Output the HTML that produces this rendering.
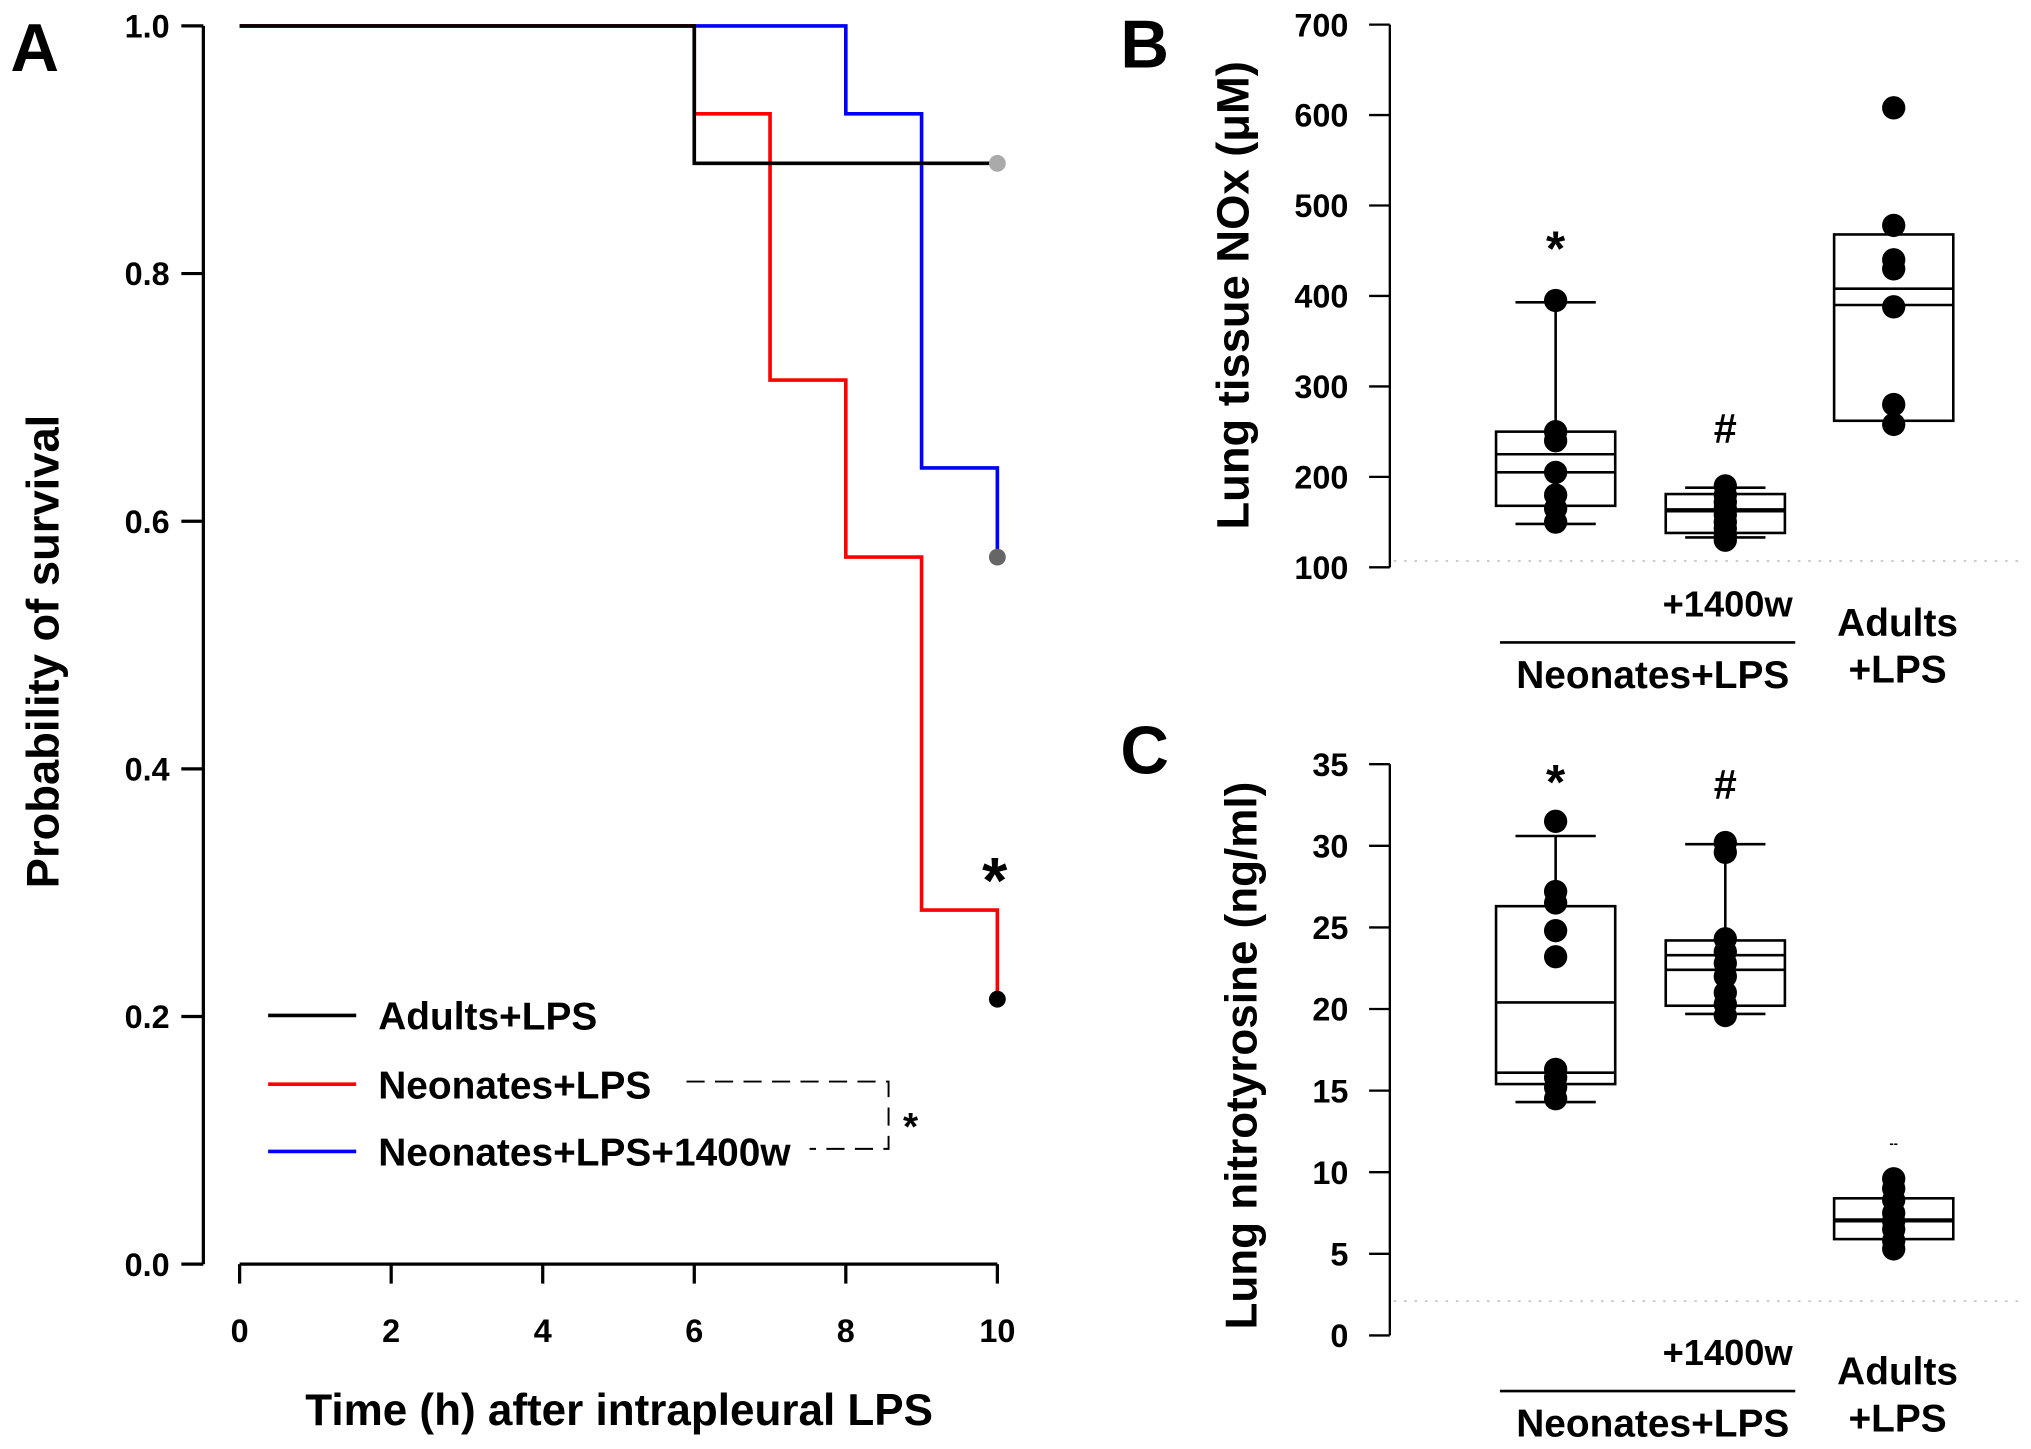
<!DOCTYPE html>
<html><head><meta charset="utf-8">
<style>
html,body{margin:0;padding:0;background:#fff;}
svg{display:block;}
text{font-family:"Liberation Sans",Arial,sans-serif;font-weight:bold;fill:#000;}
</style></head>
<body>
<svg id="fig" width="2031" height="1449" viewBox="0 0 1568 1118.7" preserveAspectRatio="none" xmlns="http://www.w3.org/2000/svg">
<text x="8" y="55" font-size="52">A</text>
<text x="865" y="52" font-size="52">B</text>
<text x="865" y="597" font-size="52">C</text>
<g id="A"></g>
<g id="B"></g>
<g id="C"></g>
</svg>
<script>
// ---- Panel A data ----
const survTimes = [0, 6, 7, 8, 9, 10];
const survAdults = [1.0, 0.889, 0.889, 0.889, 0.889, 0.889];
const survNeonates = [1.0, 0.929, 0.714, 0.571, 0.286, 0.214];
const survNeo1400 = [1.0, 1.0, 1.0, 0.929, 0.643, 0.571];
const survXTicks = [0, 2, 4, 6, 8, 10];
const survYTicks = [0.0, 0.2, 0.4, 0.6, 0.8, 1.0];
const legendLabels = ["Adults+LPS", "Neonates+LPS", "Neonates+LPS+1400w"];

// ---- Panel B data ----
const noxTicks = [100, 200, 300, 400, 500, 600, 700];
const noxBoxLow = [168, 138, 262];
const noxBoxHigh = [250, 181, 468];
const noxLine1 = [205, 162, 390];
const noxLine2 = [225, 164, 408];
const noxWhiskLow = [148, 133, null];
const noxWhiskHigh = [393, 188, null];
const noxPts0 = [395, 250, 240, 205, 180, 165, 150];
const noxPts1 = [190, 180, 172, 165, 158, 150, 143, 136, 130];
const noxPts2 = [608, 478, 440, 430, 388, 280, 258];

// ---- Panel C data ----
const ntTicks = [0, 5, 10, 15, 20, 25, 30, 35];
const ntBoxLow = [15.4, 20.2, 5.9];
const ntBoxHigh = [26.3, 24.2, 8.4];
const ntLine1 = [16.1, 22.4, 7.0];
const ntLine2 = [20.4, 23.3, 7.1];
const ntWhiskLow = [14.3, 19.7, null];
const ntWhiskHigh = [30.6, 30.1, null];
const ntPts0 = [31.5, 27.2, 26.5, 24.8, 23.2, 16.3, 15.8, 15.2, 14.5];
const ntPts1 = [30.2, 29.6, 24.3, 23.5, 22.8, 22.0, 21.0, 20.3, 19.6];
const ntPts2 = [9.6, 9.0, 8.3, 7.5, 7.0, 6.5, 5.8, 5.3];

const NS = "http://www.w3.org/2000/svg";
function mk(parent, tag, attrs, txt) {
  const e = document.createElementNS(NS, tag);
  for (const k in attrs) e.setAttribute(k, attrs[k]);
  if (txt !== undefined) e.textContent = txt;
  parent.appendChild(e);
  return e;
}

// ================= Panel A =================
(function () {
  const g = document.getElementById('A');
  const xS = v => 185 + (v / 10) * 585;
  const yS = v => 976 - v * 956;
  let ax = mk(g, 'line', {x1: 157, y1: yS(1), x2: 157, y2: yS(0), stroke: '#000', 'stroke-width': 2.5});
  
  
  survYTicks.forEach(t => {
    const tk = mk(g, 'line', {x1: 140, y1: yS(t), x2: 157, y2: yS(t), stroke: '#000', 'stroke-width': 2.5});
    
    
    const lb = mk(g, 'text', {x: 131, y: yS(t) + 9, 'font-size': 25, 'text-anchor': 'end'}, t.toFixed(1));
    
    
  });
  ax = mk(g, 'line', {x1: xS(0), y1: 976, x2: xS(10), y2: 976, stroke: '#000', 'stroke-width': 2.5});
  
  
  survXTicks.forEach(t => {
    const tk = mk(g, 'line', {x1: xS(t), y1: 976, x2: xS(t), y2: 991, stroke: '#000', 'stroke-width': 2.5});
    
    
    const lb = mk(g, 'text', {x: xS(t), y: 1036, 'font-size': 25, 'text-anchor': 'middle'}, String(t));
    
    
  });
  let t = mk(g, 'text', {x: 478, y: 1100, 'font-size': 34, 'text-anchor': 'middle'}, 'Time (h) after intrapleural LPS');
  
  
  t = mk(g, 'text', {x: 0, y: 0, 'font-size': 35, 'text-anchor': 'middle', transform: 'translate(45,503) rotate(-90)'}, 'Probability of survival');
  
  

  function step(vals, color, name) {
    let d = 'M' + xS(survTimes[0]) + ',' + yS(vals[0]);
    for (let i = 1; i < survTimes.length; i++) {
      d += ' H' + xS(survTimes[i]) + ' V' + yS(vals[i]);
    }
    const p = mk(g, 'path', {d: d, fill: 'none', stroke: color, 'stroke-width': 2.8});
    
    
  }
  step(survNeo1400, '#0000ff', 'neonates-1400w-curve');
  step(survNeonates, '#ff0000', 'neonates-curve');
  step(survAdults, '#000', 'adults-curve');
  const last = survTimes.length - 1;
  let c = mk(g, 'circle', {cx: xS(10), cy: yS(survAdults[last]), r: 6.5, fill: '#aaa'});
  
  
  c = mk(g, 'circle', {cx: xS(10), cy: yS(survNeo1400[last]), r: 6.5, fill: '#666'});
  
  
  c = mk(g, 'circle', {cx: xS(10), cy: yS(survNeonates[last]), r: 6.5, fill: '#000'});
  
  
  t = mk(g, 'text', {x: 768, y: 697, 'font-size': 50, 'text-anchor': 'middle'}, '*');
  
  

  const cols = ['#000', '#ff0000', '#0000ff'];
  const ly = [784, 837, 889];
  legendLabels.forEach((l, i) => {
    const ln = mk(g, 'line', {x1: 207, y1: ly[i], x2: 275, y2: ly[i], stroke: cols[i], 'stroke-width': 2.8});
    
    
    const tx = mk(g, 'text', {x: 292, y: ly[i] + 11, 'font-size': 30}, l);
    
    
  });
  const br = mk(g, 'path', {d: 'M530,835 H686 V887 H625', fill: 'none', stroke: '#000', 'stroke-width': 1.5, 'stroke-dasharray': '14,8'});
  
  
  t = mk(g, 'text', {x: 703, y: 880, 'font-size': 30, 'text-anchor': 'middle'}, '*');
  
  
})();

// ================= Box panels =================
function boxPanel(id, ticks, y0, y1, vmin, vmax, dotY, boxLow, boxHigh, l1, l2, wl, wh, pts, title, titleX, titleY, titleSize, marks, labY) {
  const g = document.getElementById(id);
  const yS = v => y0 - (v - vmin) / (vmax - vmin) * (y0 - y1);
  const xc = [1201, 1332, 1462];
  const hw = 46;
  let ax = mk(g, 'line', {x1: 1073, y1: yS(vmin), x2: 1073, y2: yS(vmax), stroke: '#000', 'stroke-width': 1.8});
  
  
  ticks.forEach(t => {
    const tk = mk(g, 'line', {x1: 1057, y1: yS(t), x2: 1073, y2: yS(t), stroke: '#000', 'stroke-width': 1.8});
    
    
    const lb = mk(g, 'text', {x: 1041, y: yS(t) + 9, 'font-size': 25, 'text-anchor': 'end'}, String(t));
    
    
  });
  const dl = mk(g, 'line', {x1: 1076, y1: yS(dotY), x2: 1562, y2: yS(dotY), stroke: '#ccc', 'stroke-width': 1.5, 'stroke-dasharray': '2,6'});
  
  
  let t = mk(g, 'text', {x: 0, y: 0, 'font-size': titleSize, 'text-anchor': 'middle', transform: 'translate(' + titleX + ',' + titleY + ') rotate(-90)'}, title);
  
  
  for (let i = 0; i < 3; i++) {
    const x = xc[i];
    if (wh[i] !== null) {
      let w = mk(g, 'line', {x1: x, y1: yS(wh[i]), x2: x, y2: yS(boxHigh[i]), stroke: '#000', 'stroke-width': 2});
      
      
      w = mk(g, 'line', {x1: x - 31, y1: yS(wh[i]), x2: x + 31, y2: yS(wh[i]), stroke: '#000', 'stroke-width': 2});
      
      
      w = mk(g, 'line', {x1: x, y1: yS(wl[i]), x2: x, y2: yS(boxLow[i]), stroke: '#000', 'stroke-width': 2});
      
      
      w = mk(g, 'line', {x1: x - 31, y1: yS(wl[i]), x2: x + 31, y2: yS(wl[i]), stroke: '#000', 'stroke-width': 2});
      
      
    }
    const r = mk(g, 'rect', {x: x - hw, y: yS(boxHigh[i]), width: hw * 2, height: yS(boxLow[i]) - yS(boxHigh[i]), fill: 'none', stroke: '#000', 'stroke-width': 2});
    
    
    [l1[i], l2[i]].forEach(v => {
      const m = mk(g, 'line', {x1: x - hw, y1: yS(v), x2: x + hw, y2: yS(v), stroke: '#000', 'stroke-width': 2});
      
      
    });
    pts[i].forEach(v => {
      const c = mk(g, 'circle', {cx: x, cy: yS(v), r: 9, fill: '#000'});
      
      
    });
  }
  marks.forEach(m => {
    const tx = mk(g, 'text', {x: m[0], y: m[1], 'font-size': m[3], 'text-anchor': 'middle', 'font-weight': 'normal'}, m[2]);
    
    
  });
  t = mk(g, 'text', {x: 1384, y: labY, 'font-size': 28, 'text-anchor': 'end'}, '+1400w');
  
  
  const gl = mk(g, 'line', {x1: 1158, y1: labY + 20, x2: 1386, y2: labY + 20, stroke: '#000', 'stroke-width': 2});
  
  
  t = mk(g, 'text', {x: 1276, y: labY + 55, 'font-size': 30, 'text-anchor': 'middle'}, 'Neonates+LPS');
  
  
  t = mk(g, 'text', {x: 1465, y: labY + 15, 'font-size': 30, 'text-anchor': 'middle'}, 'Adults');
  
  
  t = mk(g, 'text', {x: 1465, y: labY + 51, 'font-size': 30, 'text-anchor': 'middle'}, '+LPS');
  
  
}

boxPanel('B', noxTicks, 438, 19, 100, 700, 107, noxBoxLow, noxBoxHigh, noxLine1, noxLine2, noxWhiskLow, noxWhiskHigh,
  [noxPts0, noxPts1, noxPts2], 'Lung tissue NOx (\u03bcM)', 964, 228, 35,
  [[1201, 205, '*', 38], [1332, 342, '#', 32]], 476);

boxPanel('C', ntTicks, 1031, 590, 0, 35, 2.1, ntBoxLow, ntBoxHigh, ntLine1, ntLine2, ntWhiskLow, ntWhiskHigh,
  [ntPts0, ntPts1, ntPts2], 'Lung nitrotyrosine (ng/ml)', 970, 815, 34,
  [[1201, 617, '*', 38], [1332, 617, '#', 32], [1462, 886, '--', 10]], 1054);
</script>
</body></html>
